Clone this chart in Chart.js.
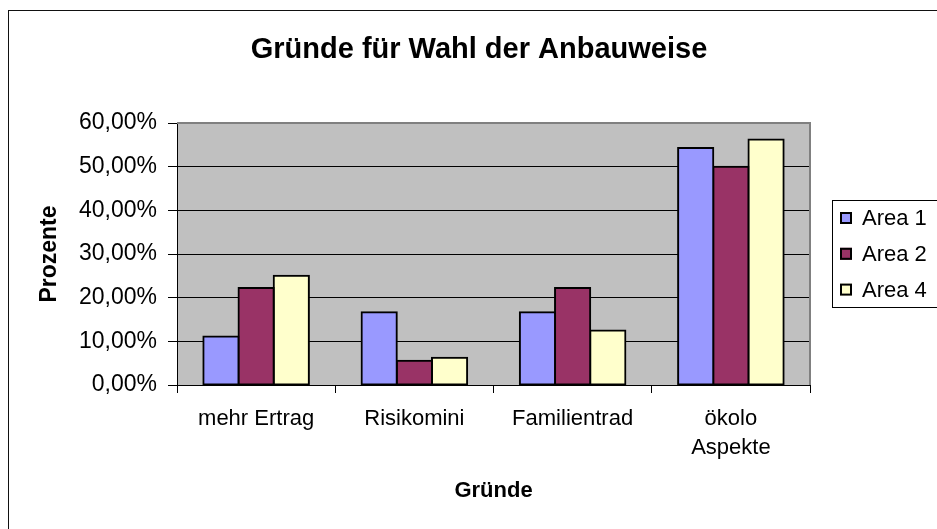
<!DOCTYPE html>
<html>
<head>
<meta charset="utf-8">
<script src="https://cdn.jsdelivr.net/npm/chart.js@4.4.1/dist/chart.umd.min.js"></script>
<style>
    html, body { margin: 0; padding: 0; background: #fff; }
    #wrap { width: 937px; height: 529px; }
</style>
</head>
<body>
<div id="wrap"><canvas id="chart" width="937" height="529"></canvas></div>
<script>
// values, in percent
const categories = ['mehr Ertrag', 'Risikomini', 'Familientrad', ['ökolo', 'Aspekte']];
const seriesNames = ['Area 1', 'Area 2', 'Area 4'];
const area1 = [11.11, 16.67, 16.67, 54.3];
const area2 = [22.22, 5.56, 22.22, 50.0];
const area4 = [25.0, 6.25, 12.5, 56.25];
const yMin = 0;
const yMax = 60;
const yStep = 10;

const FONT = '"Liberation Sans", Arial, Helvetica, sans-serif';
const colors = ['#9999FF', '#993366', '#FFFFCC'];

function pctLabel(v) {
    return Number(v).toFixed(2).replace('.', ',') + '%';
}

// grey plot background, frame, outer border, title and boxed legend
const excelFrame = {
    id: 'excelFrame',
    beforeDraw(chart) {
        const { ctx, chartArea: a } = chart;
        ctx.save();
        ctx.fillStyle = '#fff';
        ctx.fillRect(0, 0, chart.width, chart.height);
        ctx.strokeStyle = '#111';
        ctx.lineWidth = 1;
        ctx.strokeRect(8.5, 10.5, chart.width + 20, chart.height + 20);
        ctx.fillStyle = '#c0c0c0';
        ctx.fillRect(a.left, a.top, a.right - a.left, a.bottom - a.top);
        ctx.restore();
    },
    beforeDatasetsDraw(chart) {
        const { ctx, chartArea: a } = chart;
        ctx.save();
        ctx.strokeStyle = '#808080';
        ctx.lineWidth = 2;
        ctx.beginPath();
        ctx.moveTo(a.left, a.top);
        ctx.lineTo(a.right, a.top);
        ctx.lineTo(a.right, a.bottom);
        ctx.stroke();
        ctx.restore();
    },
    afterDraw(chart) {
        const { ctx } = chart;
        ctx.save();

        ctx.fillStyle = '#000';
        ctx.font = 'bold 29px ' + FONT;
        ctx.textAlign = 'center';
        ctx.textBaseline = 'alphabetic';
        ctx.fillText('Gründe für Wahl der Anbauweise', 479, 57.5);

        ctx.strokeStyle = '#000';
        ctx.lineWidth = 1;
        ctx.strokeRect(832.5, 200.5, 130, 107);

        ctx.font = '22px ' + FONT;
        ctx.textAlign = 'left';
        ctx.textBaseline = 'middle';
        chart.data.datasets.forEach((ds, i) => {
            const cy = 219 + i * 35.8;
            ctx.fillStyle = ds.backgroundColor;
            ctx.fillRect(840, cy - 7, 12, 12);
            ctx.lineWidth = 2;
            ctx.strokeRect(841, cy - 6, 10, 10);
            ctx.fillStyle = '#000';
            ctx.fillText(ds.label, 862, cy);
        });
        ctx.restore();
    },
};

const datasets = [area1, area2, area4].map((data, i) => ({
    label: seriesNames[i],
    data,
    backgroundColor: colors[i],
    borderColor: '#000',
    borderWidth: 2,
    borderSkipped: false,
    inflateAmount: 1,
    categoryPercentage: 0.667,
    barPercentage: 1.0,
}));

new Chart(document.getElementById('chart'), {
    type: 'bar',
    data: { labels: categories, datasets },
    plugins: [excelFrame],
    options: {
        responsive: false,
        animation: false,
        devicePixelRatio: 1,
        layout: { padding: { top: 123, left: 0, right: 127, bottom: 0 } },
        plugins: {
            legend: { display: false },
            title: { display: false },
            tooltip: { enabled: false },
        },
        scales: {
            y: {
                min: yMin,
                max: yMax,
                ticks: {
                    stepSize: yStep,
                    padding: 11,
                    color: '#000',
                    font: { family: FONT, size: 23 },
                    callback: pctLabel,
                },
                grid: { color: '#000', lineWidth: 1, tickLength: 9, tickColor: '#000' },
                border: { color: '#000', width: 1 },
                title: {
                    display: true,
                    text: 'Prozente',
                    color: '#000',
                    font: { family: FONT, size: 23, weight: 'bold' },
                    padding: { top: 36, bottom: 0 },
                },
                afterFit(scale) { scale.width = 177; },
            },
            x: {
                ticks: {
                    padding: 11.5,
                    color: '#000',
                    font: { family: FONT, size: 22, lineHeight: 1.32 },
                    maxRotation: 0,
                    autoSkip: false,
                },
                grid: { display: true, drawOnChartArea: false, tickLength: 8, color: '#000', offset: true },
                border: { color: '#000', width: 1 },
                title: {
                    display: true,
                    text: 'Gründe',
                    color: '#000',
                    font: { family: FONT, size: 22, weight: 'bold' },
                    padding: { top: 0, bottom: 25 },
                },
                afterFit(scale) { scale.height = 144; },
            },
        },
    },
});
</script>
</body>
</html>
